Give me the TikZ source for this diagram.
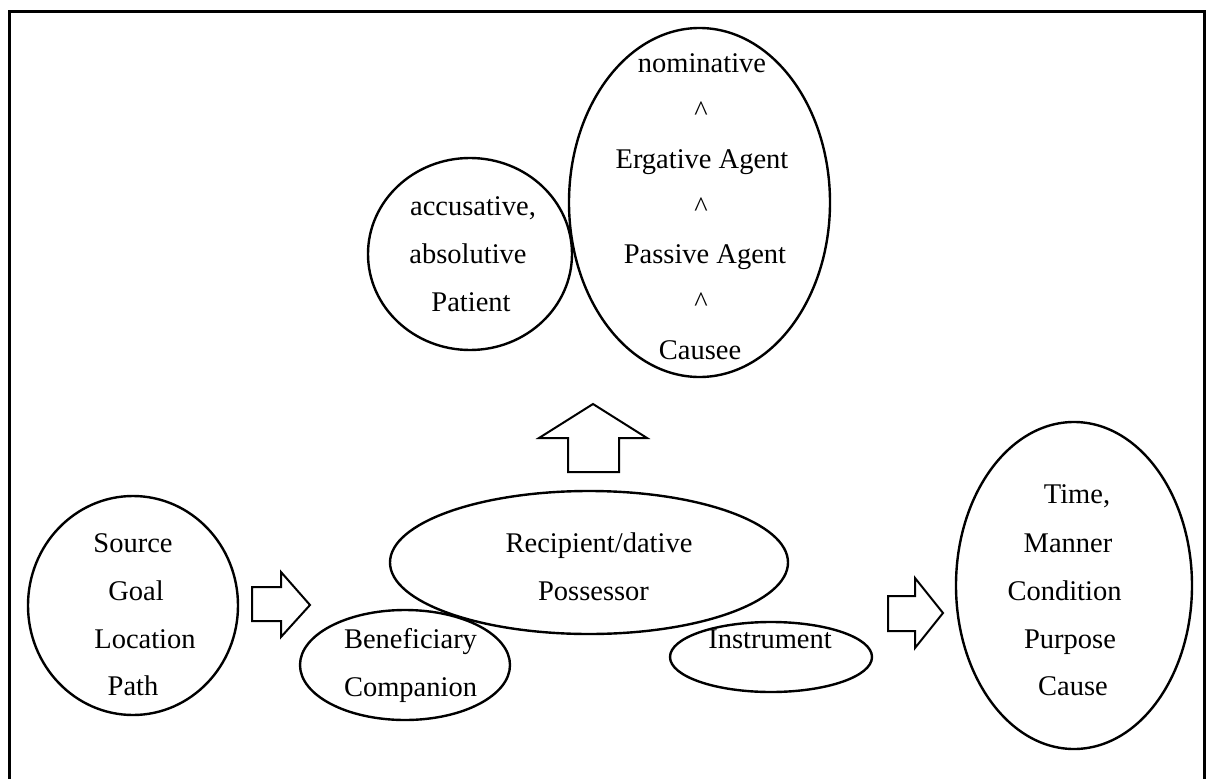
\documentclass[tikz,border=0pt]{standalone}
\usepackage{fontspec}
\setmainfont{Liberation Serif}
\usetikzlibrary{shapes.geometric}
\begin{document}
\begin{tikzpicture}[x=1pt,y=-1pt,
  oval/.style={draw, ellipse, line width=2.4pt, inner sep=0pt, outer sep=0pt},
  lbl/.style={anchor=base, inner sep=0pt, outer sep=0pt, font=\fontsize{28.5}{34}\selectfont},
  blockarrow/.style={draw, line width=2pt, line join=miter}]
\useasboundingbox (0,0) rectangle (1208,779);
\fill[white] (0,0) rectangle (1208,779);
% frame (open at the bottom)
\draw[line width=3pt] (9,779) -- (9,11) -- (1204,11) -- (1204,779);

% ellipses
\node[oval, minimum width=204pt, minimum height=192pt] (patient) at (470,254) {};
\node[oval, minimum width=261pt, minimum height=349pt] (nom) at (699.5,202.5) {};
\node[oval, minimum width=210pt, minimum height=219pt] (source) at (133,605.5) {};
\node[oval, minimum width=398pt, minimum height=143pt] (recip) at (589,562.5) {};
\node[oval, minimum width=210pt, minimum height=110pt] (benef) at (405,665) {};
\node[oval, minimum width=202pt, minimum height=70pt] (instr) at (771,657) {};
\node[oval, minimum width=236pt, minimum height=327pt] (time) at (1074,585.5) {};

% block arrows
\draw[blockarrow] (568,472) -- (568,438) -- (539,438) -- (593,404) -- (647,438) -- (619,438) -- (619,472) -- cycle;
\draw[blockarrow] (252,587) -- (281,587) -- (281,572) -- (310,605) -- (281,637) -- (281,621) -- (252,621) -- cycle;
\draw[blockarrow] (888,596) -- (915,596) -- (915,578) -- (943,613) -- (915,648) -- (915,631) -- (888,631) -- cycle;

% nominative group
\node[lbl] (n1) at (702,72) {nominative};
\node[lbl] (n2) at (701,120) {\textasciicircum};
\node[lbl] (n3) at (702,168) {Ergative Agent};
\node[lbl] (n4) at (701,216) {\textasciicircum};
\node[lbl] (n5) at (705,263) {Passive Agent};
\node[lbl] (n6) at (701,311) {\textasciicircum};
\node[lbl] (n7) at (700,359) {Causee};

% patient group
\node[lbl] (p1) at (473,215) {accusative,};
\node[lbl] (p2) at (468,263) {absolutive};
\node[lbl] (p3) at (471,311) {Patient};

% source group
\node[lbl] (s1) at (133,552) {Source};
\node[lbl] (s2) at (136,600) {Goal};
\node[lbl] (s3) at (145,648) {Location};
\node[lbl] (s4) at (133,695) {Path};

% recipient group
\node[lbl] (r1) at (599,552) {Recipient/dative};
\node[lbl] (r2) at (593.5,600) {Possessor};

% beneficiary group
\node[lbl] (b1) at (410.5,648) {Beneficiary};
\node[lbl] (b2) at (410.5,696) {Companion};

% instrument
\node[lbl] (i1) at (770,648) {Instrument};

% time group
\node[lbl] (m1) at (1077,503) {Time,};
\node[lbl] (m2) at (1068,552) {Manner};
\node[lbl] (m3) at (1064.5,600) {Condition};
\node[lbl] (m4) at (1070,648) {Purpose};
\node[lbl] (m5) at (1073,695) {Cause};
\end{tikzpicture}
\end{document}
